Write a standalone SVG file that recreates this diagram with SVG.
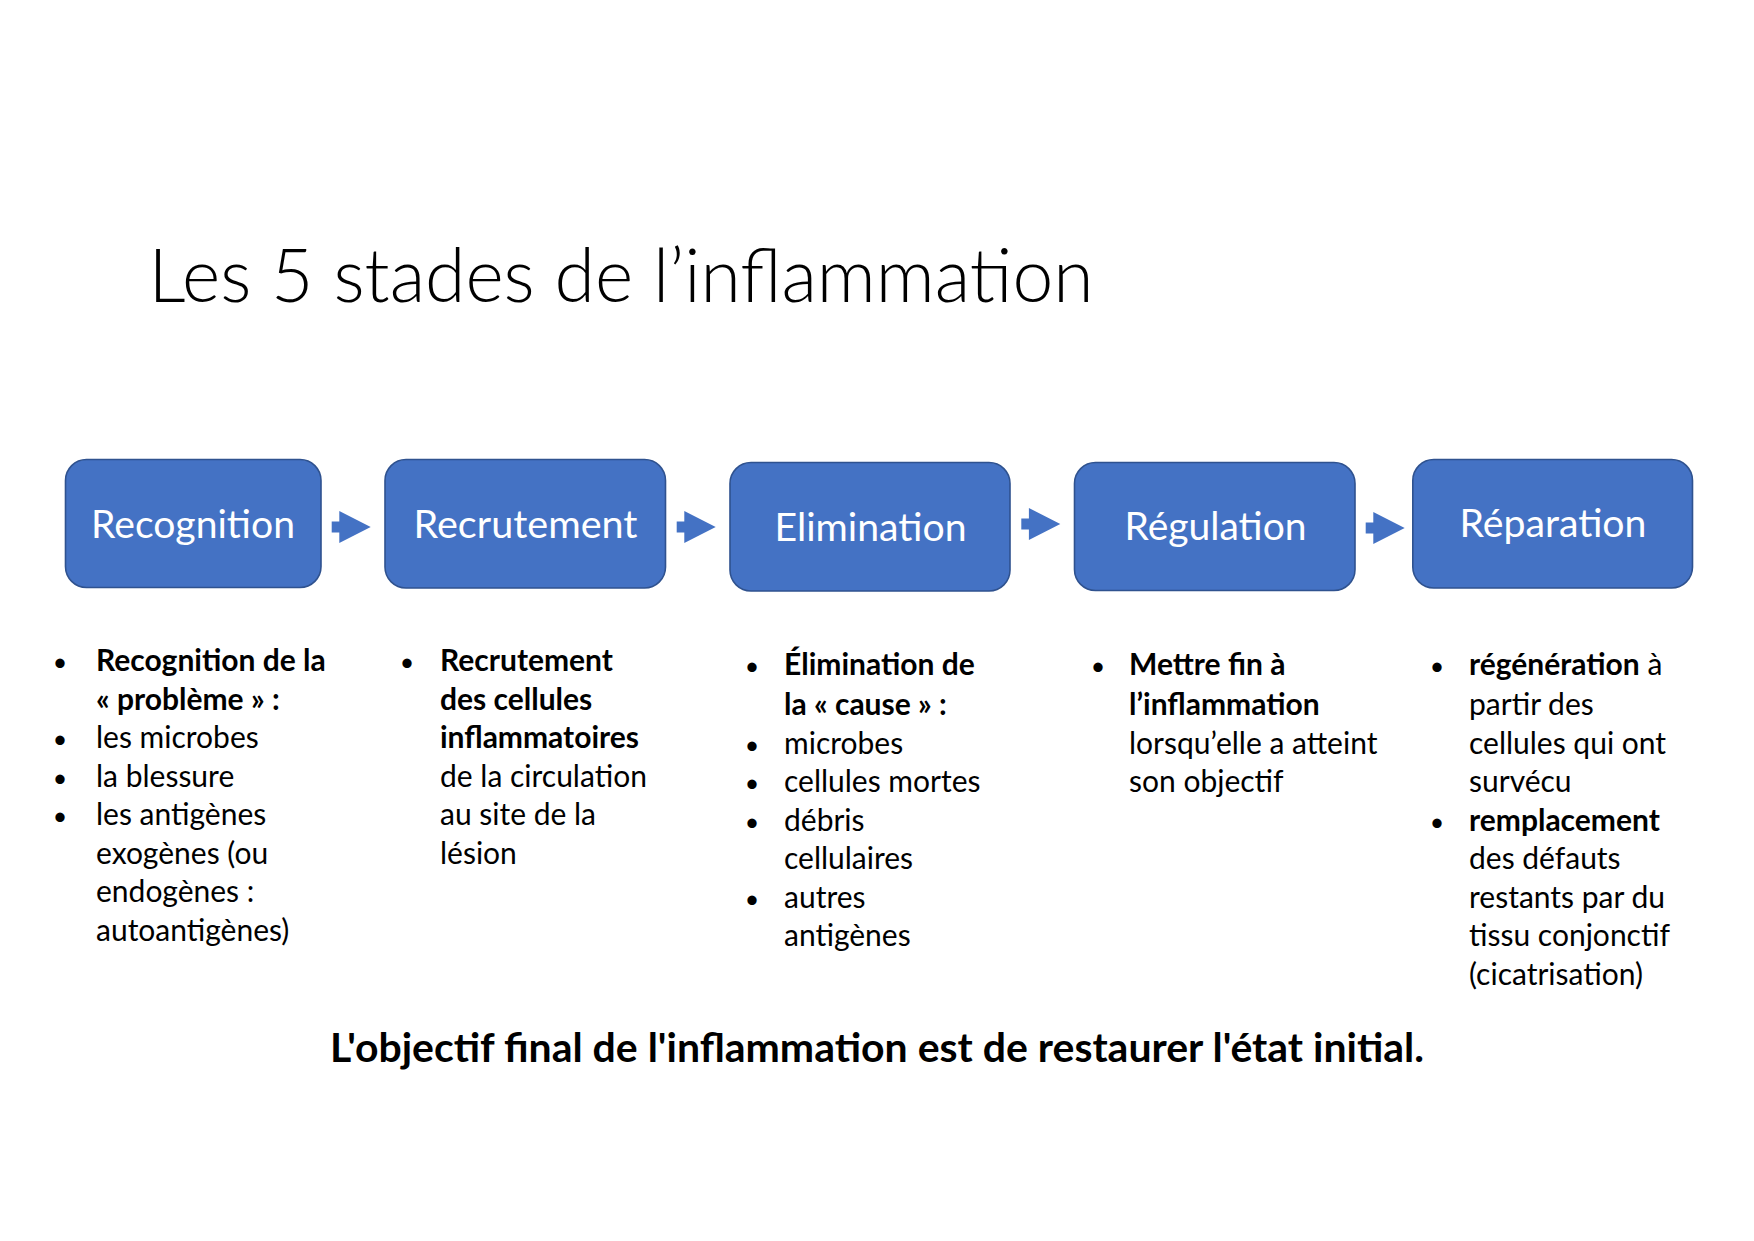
<svg xmlns="http://www.w3.org/2000/svg" width="1754" height="1241" viewBox="0 0 1754 1241">
<style>
  .box{fill:#4472C4;stroke:#2F528F;stroke-width:1.6}
  .lbl{font-family:Lato,"Open Sans","Liberation Sans",sans-serif;font-size:39px;fill:#fff;text-anchor:middle}
  .arr{fill:#4472C4}
  .body{font-family:Lato,"Open Sans","Liberation Sans",sans-serif;font-size:30px;fill:#000}
  .b{font-weight:bold}
  .bul{text-anchor:middle;font-size:25px}
  .title{font-family:Lato,"Open Sans","Liberation Sans",sans-serif;font-weight:300;font-size:75px;fill:#000}
  .foot{font-family:Lato,"Open Sans","Liberation Sans",sans-serif;font-weight:bold;font-size:41px;fill:#000}
</style>
<defs>
  <path id="arrow" d="M0,-5.5 H7.6 V-16 L39,0 L7.6,16 V5.5 H0 Z"/>
</defs>
<rect width="1754" height="1241" fill="#fff"/>
<text class="title" x="148.5" y="302" textLength="945" lengthAdjust="spacingAndGlyphs">Les 5 stades de l’inflammation</text>

<g id="connectors">
  <use href="#arrow" class="arr" x="331.7" y="527"/>
  <use href="#arrow" class="arr" x="676.7" y="527"/>
  <use href="#arrow" class="arr" x="1021.3" y="524"/>
  <use href="#arrow" class="arr" x="1365.7" y="528"/>
</g>

<g id="node-recognition">
  <rect class="box" x="65.5" y="459.5" width="255.5" height="128" rx="21"/>
  <text class="lbl" x="193" y="537.5" textLength="204" lengthAdjust="spacingAndGlyphs">Recognition</text>
</g>
<g id="node-recrutement">
  <rect class="box" x="385" y="459.5" width="280.5" height="128.5" rx="21"/>
  <text class="lbl" x="525.5" y="537.5" textLength="224" lengthAdjust="spacingAndGlyphs">Recrutement</text>
</g>
<g id="node-elimination">
  <rect class="box" x="730" y="462.5" width="280" height="128.5" rx="21"/>
  <text class="lbl" x="870.5" y="540.5" textLength="192" lengthAdjust="spacingAndGlyphs">Elimination</text>
</g>
<g id="node-regulation">
  <rect class="box" x="1074.5" y="462.5" width="280.5" height="128" rx="21"/>
  <text class="lbl" x="1215.5" y="540" textLength="182" lengthAdjust="spacingAndGlyphs">Régulation</text>
</g>
<g id="node-reparation">
  <rect class="box" x="1412.8" y="459.5" width="279.7" height="128.5" rx="21"/>
  <text class="lbl" x="1553" y="537" textLength="187" lengthAdjust="spacingAndGlyphs">Réparation</text>
</g>

<g id="desc-recognition" class="body">
  <text class="bul" x="60" y="671">•</text>
  <text class="bul" x="60" y="748">•</text>
  <text class="bul" x="60" y="786.5">•</text>
  <text class="bul" x="60" y="825">•</text>
  <text class="b" x="96" y="671">Recognition de la</text>
  <text class="b" x="96" y="709.5">« problème » :</text>
  <text x="96" y="748">les microbes</text>
  <text x="96" y="786.5">la blessure</text>
  <text x="96" y="825">les antigènes</text>
  <text x="96" y="863.5">exogènes (ou</text>
  <text x="96" y="902">endogènes :</text>
  <text x="96" y="940.5">autoantigènes)</text>
</g>

<g id="desc-recrutement" class="body">
  <text class="bul" x="407" y="671">•</text>
  <text class="b" x="440" y="671">Recrutement</text>
  <text class="b" x="440" y="709.5">des cellules</text>
  <text class="b" x="440" y="748">inflammatoires</text>
  <text x="440" y="786.5">de la circulation</text>
  <text x="440" y="825">au site de la</text>
  <text x="440" y="863.5">lésion</text>
</g>

<g id="desc-elimination" class="body">
  <text class="bul" x="752" y="675">•</text>
  <text class="bul" x="752" y="753.5">•</text>
  <text class="bul" x="752" y="792">•</text>
  <text class="bul" x="752" y="830.5">•</text>
  <text class="bul" x="752" y="907.5">•</text>
  <text class="b" x="784" y="675">Élimination de</text>
  <text class="b" x="784" y="714.5">la « cause » :</text>
  <text x="784" y="753.5">microbes</text>
  <text x="784" y="792">cellules mortes</text>
  <text x="784" y="830.5">débris</text>
  <text x="784" y="869">cellulaires</text>
  <text x="784" y="907.5">autres</text>
  <text x="784" y="946">antigènes</text>
</g>

<g id="desc-regulation" class="body">
  <text class="bul" x="1098" y="675">•</text>
  <text class="b" x="1129" y="675">Mettre fin à</text>
  <text class="b" x="1129" y="714.5">l’inflammation</text>
  <text x="1129" y="753.5">lorsqu’elle a atteint</text>
  <text x="1129" y="792">son objectif</text>
</g>

<g id="desc-reparation" class="body">
  <text class="bul" x="1437" y="675">•</text>
  <text class="bul" x="1437" y="830.5">•</text>
  <text x="1469" y="675"><tspan class="b">régénération</tspan> à</text>
  <text x="1469" y="714.5">partir des</text>
  <text x="1469" y="753.5">cellules qui ont</text>
  <text x="1469" y="792">survécu</text>
  <text class="b" x="1469" y="830.5">remplacement</text>
  <text x="1469" y="869">des défauts</text>
  <text x="1469" y="907.5">restants par du</text>
  <text x="1469" y="946">tissu conjonctif</text>
  <text x="1469" y="984.5">(cicatrisation)</text>
</g>

<text class="foot" x="330" y="1062" textLength="1094" lengthAdjust="spacingAndGlyphs">L'objectif final de l'inflammation est de restaurer l'état initial.</text>
</svg>
